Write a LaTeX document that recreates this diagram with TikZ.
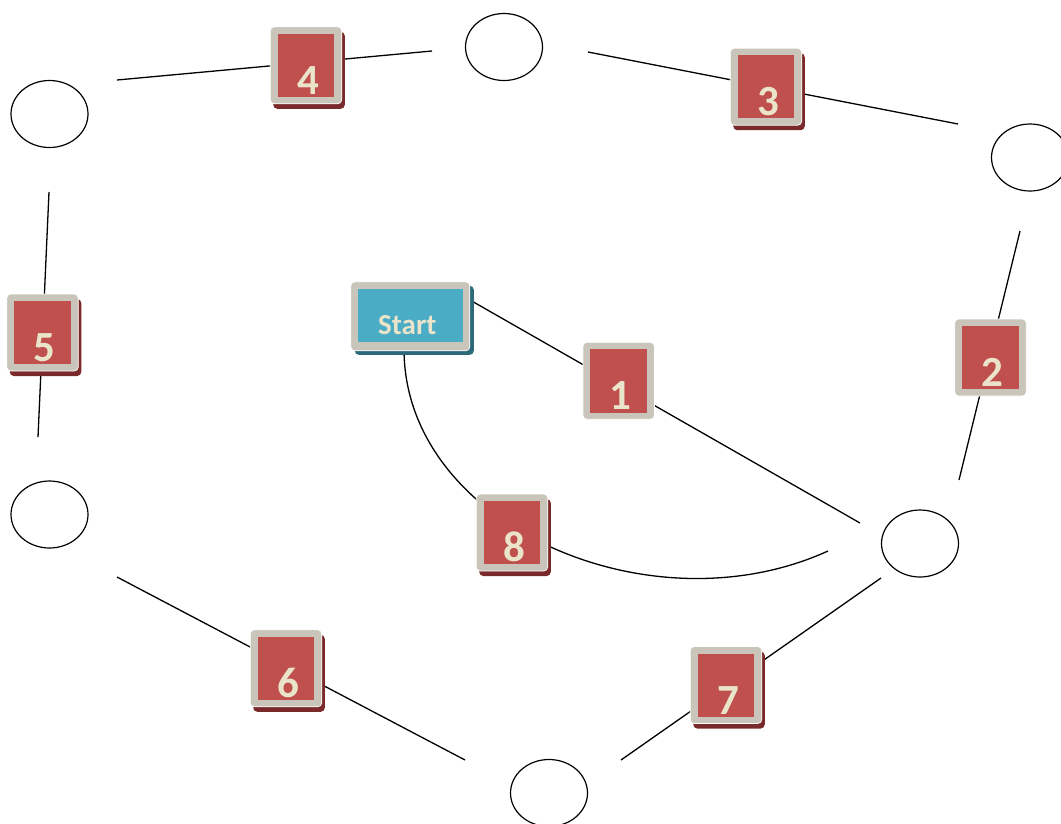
\documentclass[tikz,border=0pt]{standalone}
\usepackage{fontspec}
\setmainfont{Carlito}
\usetikzlibrary{shapes.geometric,shadows}

\definecolor{framegray}{HTML}{C9C5BB}
\definecolor{boxred}{HTML}{C0504D}
\definecolor{shadowred}{HTML}{7A2A2A}
\definecolor{startblue}{HTML}{4BACC6}
\definecolor{shadowteal}{HTML}{2D6A79}
\definecolor{labelcream}{HTML}{EAE4CA}

\tikzset{
  place/.style={ellipse, draw=black, line width=1.2pt, minimum width=77pt, minimum height=67pt, inner sep=0pt},
  link/.style={draw=black, line width=1.3pt},
  numbox/.style={rectangle, rounded corners=4pt, fill=framegray, draw=white, line width=0.7pt,
    minimum width=71.5pt, minimum height=77pt, inner sep=0pt,
    text height=58pt, text depth=0pt, text=labelcream,
    font=\fontsize{43}{44}\selectfont\bfseries,
    path picture={\fill[boxred, sharp corners] ([shift={(7.3pt,-7pt)}]path picture bounding box.north west)
      rectangle ([shift={(-7.3pt,6.8pt)}]path picture bounding box.south east);}},
  shadowed/.style={drop shadow={shadow xshift=3pt, shadow yshift=-5pt, fill=shadowred, opacity=1}},
  startbox/.style={rectangle, rounded corners=4pt, fill=framegray, draw=white, line width=0.7pt,
    minimum width=119pt, minimum height=69pt, inner sep=0pt,
    text height=36pt, text depth=0pt, text=labelcream,
    font=\fontsize{29}{30}\selectfont\bfseries,
    drop shadow={shadow xshift=4pt, shadow yshift=-4pt, fill=shadowteal, opacity=1},
    path picture={\fill[startblue, sharp corners] ([shift={(7pt,-7.3pt)}]path picture bounding box.north west)
      rectangle ([shift={(-6.8pt,9.3pt)}]path picture bounding box.south east);}}
}

\begin{document}
\begin{tikzpicture}[x=1pt,y=-1pt]
\useasboundingbox (0,0) rectangle (1061,823);

% places
\node[place] (pTop) at (504,47) {};
\node[place] (pTL) at (49.5,114) {};
\node[place] (pTR) at (1030,157.5) {};
\node[place] (pML) at (49.5,514.5) {};
\node[place] (pBR) at (920,543.5) {};
\node[place] (pBot) at (549,793) {};

% connector ends, set a little apart from the places
\coordinate (e4a) at (117,80);   \coordinate (e4b) at (432,51);
\coordinate (e3a) at (588,52);   \coordinate (e3b) at (958,124);
\coordinate (e5a) at (49,192);   \coordinate (e5b) at (38,437);
\coordinate (e2a) at (1020,231); \coordinate (e2b) at (959,480);
\coordinate (e1a) at (470,300);  \coordinate (e1b) at (860,523);
\coordinate (e8a) at (404,350);  \coordinate (e8b) at (828,551);
\coordinate (e6a) at (117,577);  \coordinate (e6b) at (465,760);
\coordinate (e7a) at (621,760);  \coordinate (e7b) at (881,578);

% connectors
\draw[link] (e4a) -- (e4b);
\draw[link] (e3a) -- (e3b);
\draw[link] (e5a) -- (e5b);
\draw[link] (e2a) -- (e2b);
\draw[link] (e1a) -- (e1b);
\draw[link] (e6a) -- (e6b);
\draw[link] (e7a) -- (e7b);
\draw[link] (e8a) .. controls (405,525) and (650,632) .. (e8b);

% start
\node[startbox] (start) at (410.3,316.3) {Start\hspace*{6pt}};

% step boxes
\node[numbox] (s1) at (618.7,380.8) {\hspace*{4pt}1};
\node[numbox] (s2) at (990.5,357.5) {\hspace*{4pt}2};
\node[numbox,shadowed] (s3) at (766,86.7) {\hspace*{4pt}3};
\node[numbox,shadowed] (s4) at (306,65.3) {\hspace*{4pt}4};
\node[numbox,shadowed] (s5) at (42.5,332.5) {\hspace*{4pt}5};
\node[numbox,shadowed] (s6) at (286,668.3) {\hspace*{4pt}6};
\node[numbox,shadowed] (s7) at (726,685) {\hspace*{4pt}7};
\node[numbox,shadowed] (s8) at (512,532.5) {\hspace*{4pt}8};
\end{tikzpicture}
\end{document}
